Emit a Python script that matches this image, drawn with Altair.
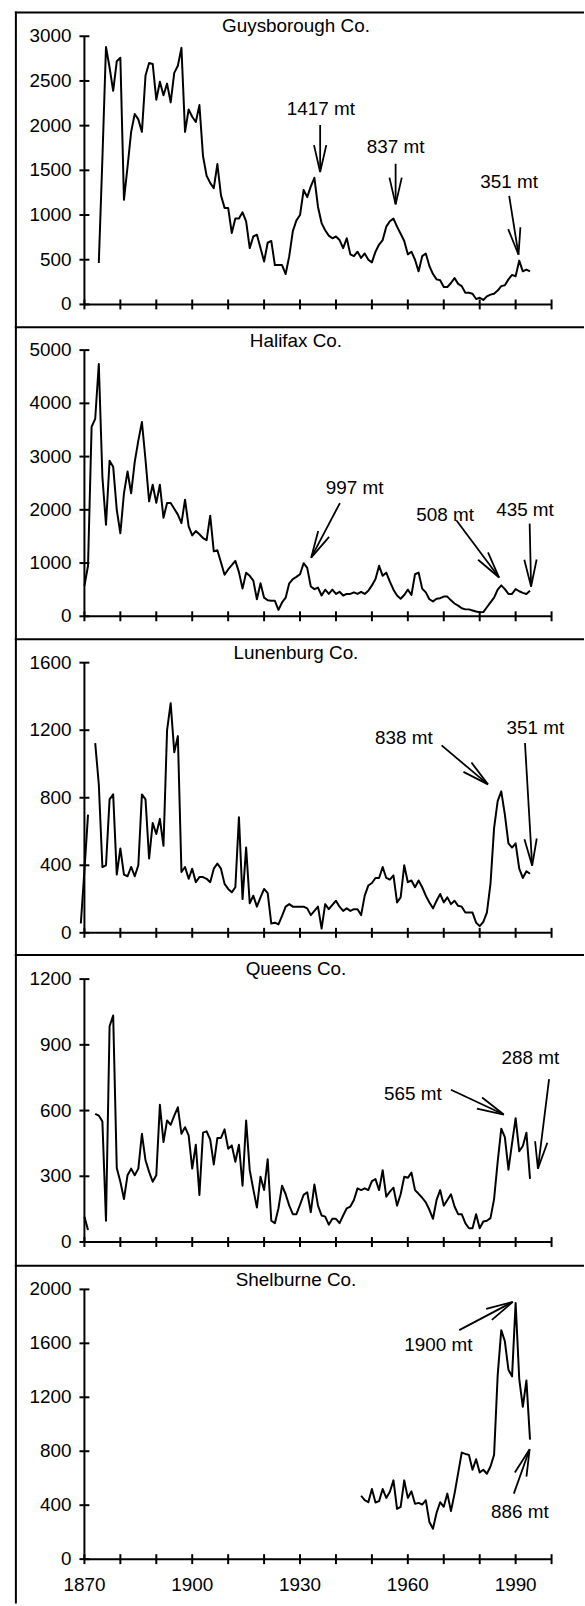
import math
import altair as alt
import pandas as pd

# ---------------- data ----------------
GUY_START = 1874
GUY_VALUES = [463, 1630, 2880, 2650, 2390, 2720, 2760, 1170, 1540, 1930,
              2130, 2070, 1930, 2560, 2700, 2690, 2290, 2490, 2340, 2470,
              2260, 2590, 2670, 2870, 1930, 2180, 2100, 2040, 2230, 1660,
              1440, 1360, 1300, 1570, 1220, 1080, 1080, 800, 960, 960,
              1030, 930, 630, 760, 780, 630, 480, 690, 710, 440,
              440, 440, 340, 540, 820, 940, 1000, 1280, 1200, 1320,
              1417, 1090, 910, 830, 770, 740, 760, 720, 630, 740,
              560, 540, 590, 520, 570, 500, 470, 590, 670, 720,
              870, 930, 960, 870, 790, 710, 560, 590, 500, 370,
              540, 570, 430, 340, 280, 270, 195, 195, 240, 295,
              230, 205, 130, 130, 120, 60, 75, 50, 90, 110,
              120, 155, 205, 215, 280, 330, 315, 490, 370, 390, 370]

HAL_START = 1870
HAL_VALUES = [570, 950, 3560, 3710, 4740, 2620, 1720, 2920, 2810, 2000,
              1560, 2310, 2720, 2310, 2900, 3300, 3650, 2940, 2160, 2470,
              2130, 2470, 1850, 2130, 2130, 2020, 1910, 1750, 2190, 1690,
              1520, 1600, 1540, 1470, 1430, 1890, 1220, 1240, 1010, 780,
              880, 960, 1040, 830, 520, 820, 760, 670, 320, 620,
              350, 300, 290, 290, 120, 260, 350, 620, 700, 740,
              790, 997, 910, 560, 510, 540, 390, 500, 420, 500,
              420, 460, 390, 420, 420, 450, 420, 460, 420, 480,
              580, 700, 950, 760, 820, 650, 500, 390, 330, 400,
              500, 400, 790, 820, 520, 450, 320, 280, 330, 340,
              370, 370, 300, 240, 200, 150, 130, 130, 110, 90,
              75, 80, 170, 260, 350, 500, 580, 510, 420, 420,
              510, 470, 440, 420, 480]

LUN_A_START = 1869
LUN_A_VALUES = [55, 370, 700]
LUN_B_START = 1873
LUN_B_VALUES = [1124, 880, 390, 400, 790, 820, 345, 500, 345, 335,
                390, 335, 400, 820, 790, 440, 650, 585, 675, 515,
                1200, 1360, 1070, 1165, 360, 390, 320, 380, 300, 330,
                330, 320, 300, 380, 410, 380, 290, 260, 240, 270,
                685, 200, 505, 175, 220, 155, 210, 260, 235, 55,
                60, 50, 100, 155, 170, 155, 155, 155, 155, 145,
                105, 130, 155, 25, 170, 140, 165, 190, 155, 130,
                145, 130, 140, 140, 105, 220, 280, 295, 325, 325,
                390, 325, 315, 340, 180, 210, 400, 300, 310, 270,
                310, 270, 220, 180, 145, 190, 230, 180, 210, 170,
                190, 160, 155, 120, 120, 120, 60, 40, 65, 120,
                290, 620, 780, 838, 700, 530, 505, 530, 380, 325,
                365, 350]

QUE_A_START = 1870
QUE_A_VALUES = [115, 55]
QUE_B_START = 1873
QUE_B_VALUES = [585, 577, 550, 97, 985, 1034, 338, 275, 196, 305,
                335, 305, 335, 494, 373, 320, 275, 305, 626, 456,
                555, 535, 577, 615, 494, 524, 487, 335, 444, 215,
                499, 505, 468, 354, 475, 475, 514, 426, 441, 366,
                444, 257, 555, 328, 240, 157, 298, 237, 378, 97,
                86, 154, 257, 218, 166, 127, 127, 170, 215, 227,
                136, 263, 166, 121, 116, 79, 106, 106, 86, 121,
                154, 162, 192, 245, 237, 245, 237, 278, 287, 237,
                328, 207, 230, 248, 166, 218, 298, 293, 317, 237,
                220, 202, 181, 147, 106, 192, 237, 166, 192, 218,
                162, 127, 127, 86, 63, 63, 127, 63, 94, 97,
                109, 196, 366, 517, 479, 330, 450, 565, 414, 438,
                499, 288]

SHE_START = 1947
SHE_VALUES = [470, 437, 422, 520, 420, 430, 520, 454, 500, 584,
              373, 388, 584, 454, 503, 410, 417, 405, 437, 275,
              226, 344, 422, 388, 486, 356, 486, 638, 790, 780,
              773, 663, 741, 643, 663, 633, 687, 773, 1362, 1698,
              1615, 1404, 1355, 1900, 1337, 1129, 1325, 886]

PANEL_NAMES = ["Guysborough Co.", "Halifax Co.", "Lunenburg Co.",
               "Queens Co.", "Shelburne Co."]
PANEL_SEGMENTS = [
    [(GUY_START, GUY_VALUES)],
    [(HAL_START, HAL_VALUES)],
    [(LUN_A_START, LUN_A_VALUES), (LUN_B_START, LUN_B_VALUES)],
    [(QUE_A_START, QUE_A_VALUES), (QUE_B_START, QUE_B_VALUES)],
    [(SHE_START, SHE_VALUES)],
]
Y_TICKS = [
    [0, 500, 1000, 1500, 2000, 2500, 3000],
    [0, 1000, 2000, 3000, 4000, 5000],
    [0, 400, 800, 1200, 1600],
    [0, 300, 600, 900, 1200],
    [0, 400, 800, 1200, 1600, 2000],
]
X_TICKS = list(range(1870, 2001, 10))
X_LABELS = [1870, 1900, 1930, 1960, 1990]

# annotations: label, label year, label value, arrow start year/value, arrow tip year/value
ANNOTATIONS = [
    [("1417 mt", 1935.8, 2185, 1935.6, 2007, 1935.6, 1482),
     ("837 mt", 1956.6, 1759, 1956.6, 1574, 1956.6, 1119),
     ("351 mt", 1988.2, 1370, 1988.2, 1215, 1990.8, 556)],
    [("997 mt", 1945.2, 2407, 1941.1, 2127, 1933.1, 1101),
     ("508 mt", 1970.4, 1909, 1973.5, 1803, 1985.4, 728),
     ("435 mt", 1992.6, 1990, 1993.9, 1741, 1994.3, 560)],
    [("838 mt", 1958.9, 1151, 1969.4, 1110, 1982.3, 879),
     ("351 mt", 1995.5, 1210, 1992.6, 1124, 1994.6, 398)],
    [("565 mt", 1961.4, 674, 1972.0, 695, 1986.7, 582),
     ("288 mt", 1994.1, 842, 1999.3, 743, 1996.2, 335)],
    [("1900 mt", 1968.5, 1585, 1974.3, 1698, 1989.2, 1907),
     ("886 mt", 1991.2, 348, 1989.5, 486, 1993.9, 815)],
]

# ---------------- layout (page pixels) ----------------
PAD_LEFT, PAD_TOP = 14, 5
W = 571
X_AXIS_PAGE = 84.0       # page x of year 1870
PX_PER_YEAR = 3.618
# view top, view height, page y of top tick, page y of zero, top tick value
LAYOUT = [
    (5, 317, 30.0, 300.0, 3000),
    (322, 314, 346.0, 614.0, 5000),
    (636, 318, 660.7, 932.7, 1600),
    (954, 313, 979.3, 1244.0, 1200),
    (1267, 339, 1291.7, 1563.3, 2000),
]
FONT = "Liberation Sans"
FS = 19
ARROW_PATH = "M -0.23 1 L 0 0 L 0.23 1"
ARROW_LEN = 27

XMIN = 1870 - (X_AXIS_PAGE - PAD_LEFT) / PX_PER_YEAR
XMAX = XMIN + W / PX_PER_YEAR


def make_panel(i):
    T, H, A, Z, M = LAYOUT[i]
    ppu = (Z - A) / M
    ymax = M + (A - T) / ppu
    ymin = -(T + H - Z) / ppu
    xs = alt.Scale(domain=[XMIN, XMAX], nice=False, zero=False)
    ys = alt.Scale(domain=[ymin, ymax], nice=False, zero=False)

    rows = []
    for s, (start, vals) in enumerate(PANEL_SEGMENTS[i]):
        for k, v in enumerate(vals):
            rows.append({"year": start + k, "value": v, "seg": s})
    df = pd.DataFrame(rows)

    line = alt.Chart(df).mark_line(color="black", strokeWidth=2, strokeJoin="round").encode(
        x=alt.X("year:Q", scale=xs, axis=None),
        y=alt.Y("value:Q", scale=ys, axis=None),
        detail="seg:N",
    )

    one = pd.DataFrame({"x": [1870], "x2": [2000], "y": [0], "y2": [M]})
    yaxis = alt.Chart(one).mark_rule(color="black", strokeWidth=2).encode(
        x=alt.X("x:Q", scale=xs, axis=None),
        y=alt.Y("y:Q", scale=ys, axis=None), y2="y2:Q")
    xaxis = alt.Chart(one).mark_rule(color="black", strokeWidth=2).encode(
        x=alt.X("x:Q", scale=xs, axis=None), x2="x2:Q",
        y=alt.Y("y:Q", scale=ys, axis=None))

    xt = pd.DataFrame({"x": X_TICKS, "y": [0] * len(X_TICKS)})
    xticks = alt.Chart(xt).mark_tick(orient="vertical", size=10, thickness=2,
                                     color="black", opacity=1).encode(
        x=alt.X("x:Q", scale=xs, axis=None), y=alt.Y("y:Q", scale=ys, axis=None))

    yt = pd.DataFrame({"x": [1870] * len(Y_TICKS[i]), "y": Y_TICKS[i],
                       "t": [str(v) for v in Y_TICKS[i]]})
    yticks = alt.Chart(yt).mark_tick(orient="horizontal", size=10, thickness=2,
                                     color="black", opacity=1).encode(
        x=alt.X("x:Q", scale=xs, axis=None), y=alt.Y("y:Q", scale=ys, axis=None))
    ylabels = alt.Chart(yt).mark_text(align="right", baseline="middle", dx=-13,
                                      font=FONT, fontSize=FS, color="black").encode(
        x=alt.X("x:Q", scale=xs, axis=None), y=alt.Y("y:Q", scale=ys, axis=None),
        text="t:N")

    arows = []
    for (lab, lx, ly, sx, sy, tx, ty) in ANNOTATIONS[i]:
        dxp = (tx - sx) * PX_PER_YEAR
        dyp = -(ty - sy) * ppu
        ang = math.degrees(math.atan2(dxp, -dyp)) % 360
        arows.append({"lab": lab, "lx": lx, "ly": ly, "sx": sx, "sy": sy,
                      "tx": tx, "ty": ty, "ang": ang})
    adf = pd.DataFrame(arows)
    shafts = alt.Chart(adf).mark_rule(color="black", strokeWidth=1.8).encode(
        x=alt.X("sx:Q", scale=xs, axis=None), x2="tx:Q",
        y=alt.Y("sy:Q", scale=ys, axis=None), y2="ty:Q")
    heads = alt.Chart(adf).mark_point(shape=ARROW_PATH, filled=False, color="black",
                                      strokeWidth=1.8, opacity=1,
                                      size=(2 * ARROW_LEN) ** 2).encode(
        x=alt.X("tx:Q", scale=xs, axis=None), y=alt.Y("ty:Q", scale=ys, axis=None),
        angle=alt.Angle("ang:Q", scale=None))
    labels = alt.Chart(adf).mark_text(align="center", baseline="middle", font=FONT,
                                      fontSize=FS, color="black").encode(
        x=alt.X("lx:Q", scale=xs, axis=None), y=alt.Y("ly:Q", scale=ys, axis=None),
        text="lab:N")

    tdf = pd.DataFrame({"t": [PANEL_NAMES[i]]})
    title = alt.Chart(tdf).mark_text(align="center", baseline="alphabetic", font=FONT,
                                     fontSize=FS, color="black").encode(
        x=alt.value(283), y=alt.value(21), text="t:N")

    border_top = alt.Chart(tdf).mark_rule(color="black", strokeWidth=2).encode(
        x=alt.value(0), x2=alt.value(W + 2), y=alt.value(1))
    border_left = alt.Chart(tdf).mark_rule(color="black", strokeWidth=2).encode(
        x=alt.value(1), y=alt.value(0), y2=alt.value(H + 2))

    layers = [border_top, border_left, yaxis, xaxis, xticks, yticks, ylabels,
              line, shafts, heads, labels, title]

    if i == len(LAYOUT) - 1:
        xl = pd.DataFrame({"x": X_LABELS, "y": [0] * len(X_LABELS),
                           "t": [str(v) for v in X_LABELS]})
        xlabels = alt.Chart(xl).mark_text(align="center", baseline="alphabetic", dy=32,
                                          font=FONT, fontSize=FS, color="black").encode(
            x=alt.X("x:Q", scale=xs, axis=None), y=alt.Y("y:Q", scale=ys, axis=None),
            text="t:N")
        layers.append(xlabels)

    return alt.layer(*layers).properties(width=W, height=H)


chart = alt.vconcat(*[make_panel(i) for i in range(5)], spacing=0, bounds="flush").properties(
    padding={"left": PAD_LEFT, "top": PAD_TOP, "right": 0, "bottom": 0}
).configure_view(stroke=None)

chart.save("out.html", embed_options={"renderer": "svg", "actions": False})
